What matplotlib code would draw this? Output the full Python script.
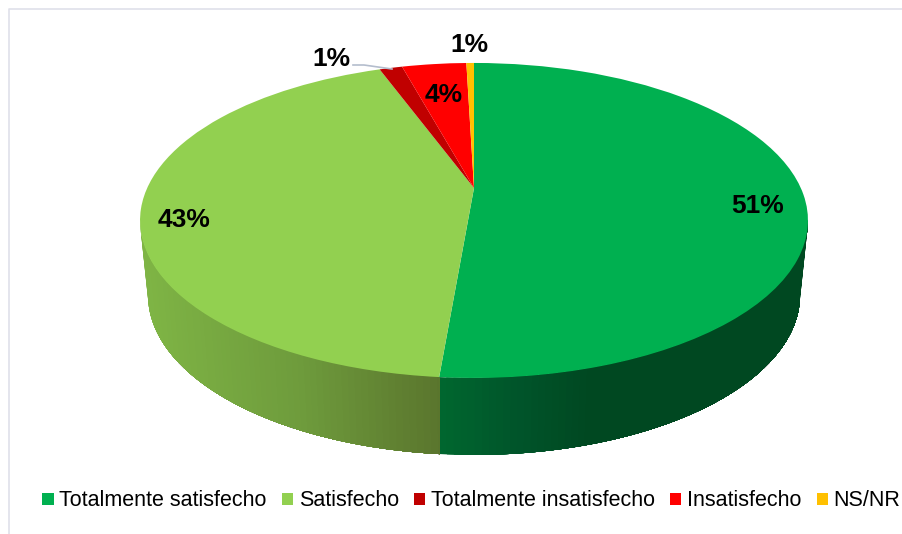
import numpy as np
import matplotlib
matplotlib.use('Agg')
import matplotlib.pyplot as plt
from matplotlib.colors import to_rgb
from matplotlib.transforms import Transform

plt.rcParams['font.family'] = ['Liberation Sans', 'DejaVu Sans']

categories = ['Totalmente satisfecho', 'Satisfecho', 'Totalmente insatisfecho', 'Insatisfecho', 'NS/NR']
values = [51.35, 43.05, 1.35, 3.8, 0.45]
percent_labels = ['51%', '43%', '1%', '4%', '1%']
colors = ['#00B050', '#92D050', '#C00000', '#FF0000', '#FFC000']

# perspective of the disc, in pixels of the picture
TILT = 0.206
TOP_RIM = (474, 188, 326.8, 150.8)
BOTTOM_RIM = (474, 262, 319.0, 153.2)


class Perspective(Transform):
    input_dims = 2
    output_dims = 2
    is_separable = False
    has_inverse = False

    def __init__(self, cx, cy, a, b):
        super().__init__()
        self.cx, self.cy, self.a, self.b = cx, cy, a, b

    def transform_non_affine(self, pts):
        pts = np.asarray(pts, dtype=float)
        w = 1 + TILT * pts[:, 1]
        return np.column_stack([self.cx + self.a * pts[:, 0] / w,
                                self.cy - self.b * pts[:, 1] / w])


def wall_color(x, stops):
    xs = [s[0] for s in stops]
    rgb = np.array([to_rgb(s[1]) for s in stops])
    return [np.interp(x, xs, rgb[:, i]) for i in range(3)]


def rim_points(tf, angles):
    rad = np.radians(angles)
    return tf.transform(np.column_stack([np.cos(rad), np.sin(rad)]))


# side colours go darker from left to right
wall_stops = {
    0: [(440, '#00672F'), (520, '#00542A'), (590, '#004821'), (810, '#004821')],
    1: [(140, '#7FB545'), (300, '#6E9B3C'), (440, '#5A752D')],
}

fig = plt.figure(figsize=(9.02, 5.34), dpi=100)
ax = fig.add_axes([0, 0, 1, 1])

wedges, _ = ax.pie(values, colors=colors, startangle=90, counterclock=False,
                   wedgeprops=dict(linewidth=0), radius=1)

ax.set_aspect('auto')
ax.set_xlim(0, 902)
ax.set_ylim(534, 0)
ax.axis('off')

top_tf = Perspective(*TOP_RIM)
bottom_tf = Perspective(*BOTTOM_RIM)
for w in wedges:
    w.set_transform(top_tf + ax.transData)
    w.set_zorder(3)

# side of the disc, only the two big slices can be seen from the front
edge = np.degrees(np.arcsin(TILT))
seam = (90 - values[0] * 3.6) % 360
wall_ranges = {0: (seam, 360 - edge), 1: (180 + edge, seam)}
for i, (lo, hi) in wall_ranges.items():
    # each strip runs to the end of the slice, the next one paints over it
    for t0 in np.arange(lo, hi, 1.0):
        angles = np.linspace(t0, hi, max(2, int(hi - t0) + 2))
        upper = rim_points(top_tf, angles)
        lower = rim_points(bottom_tf, angles)
        poly = np.vstack([upper, lower[::-1]])
        c = wall_color(upper[:2, 0].mean(), wall_stops[i])
        ax.fill(poly[:, 0], poly[:, 1], color=c, linewidth=0, zorder=2)

# frame of the chart area
ax.plot([9, 9, 902], [534, 8.5, 8.5], color='#DFE0EA', linewidth=1.2, zorder=1)

# leader line of the first 1%
ax.plot([353, 364, 392], [65, 65, 69], color='#B4BDCD', linewidth=1.2, zorder=4)

label_x = [758, 184, 331, 444, 469]
label_y = [206, 220, 59, 95, 45]
for x, y, txt in zip(label_x, label_y, percent_labels):
    ax.text(x, y, txt, fontsize=19, fontweight='bold', color='black',
            ha='center', va='center', zorder=5)

ax.legend(wedges, categories, loc='center', bbox_to_anchor=(471.5, 501),
          bbox_transform=ax.transData, ncol=5, frameon=False, fontsize=15.5,
          handlelength=0.52, handleheight=0.52, handletextpad=0.27,
          columnspacing=0.70, borderpad=0, borderaxespad=0, labelcolor='black')

fig.savefig('out.png', dpi=100)
